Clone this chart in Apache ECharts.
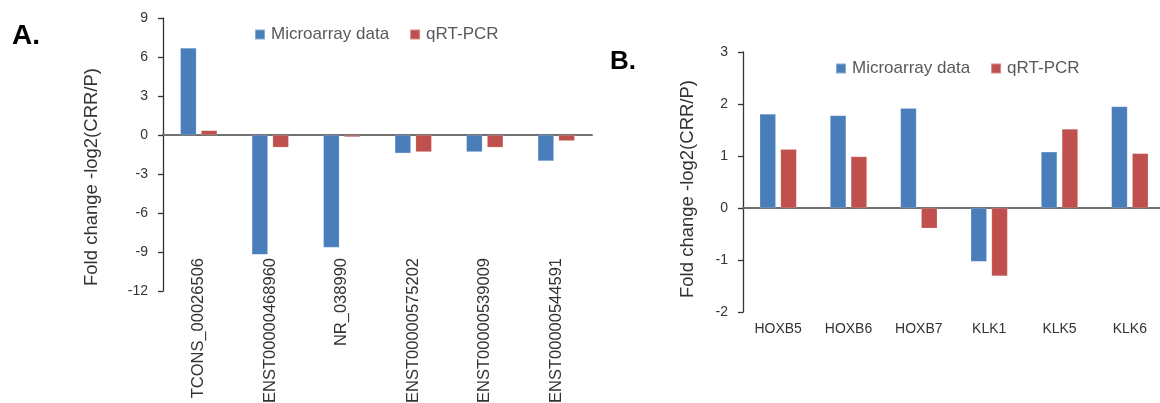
<!DOCTYPE html>
<html>
<head>
<meta charset="utf-8">
<script src="https://cdn.jsdelivr.net/npm/echarts@6/dist/echarts.min.js"></script>
<style>
  html, body { margin: 0; padding: 0; background: #fff; }
  #chart { width: 1160px; height: 403px; }
</style>
</head>
<body>
<div id="chart"></div>
<script>
// panel A - lncRNA
const categoriesA = ['TCONS_00026506', 'ENST00000468960', 'NR_038990', 'ENST00000575202', 'ENST00000539009', 'ENST00000544591']
const microarrayA = [6.7, -9.2, -8.65, -1.4, -1.3, -2.0]
const qpcrA = [0.35, -0.95, -0.15, -1.3, -0.95, -0.45]
const yTicksA = [-12, -9, -6, -3, 0, 3, 6, 9]

// panel B - mRNA
const categoriesB = ['HOXB5', 'HOXB6', 'HOXB7', 'KLK1', 'KLK5', 'KLK6']
const microarrayB = [1.81, 1.78, 1.92, -1.03, 1.08, 1.95]
const qpcrB = [1.13, 0.99, -0.39, -1.31, 1.52, 1.05]
const yTicksB = [-2, -1, 0, 1, 2, 3]

const seriesNames = ['Microarray data', 'qRT-PCR']
const BLUE = '#4a7ebb'
const RED = '#c0504d'
const FONT = 'Liberation Sans'
const yTitle = 'Fold change -log2(CRR/P)'

const chart = echarts.init(document.getElementById('chart'))

function yAxis(gridIndex, ticks) {
  return {
    type: 'value',
    gridIndex: gridIndex,
    min: ticks[0],
    max: ticks[ticks.length - 1],
    interval: ticks[1] - ticks[0],
    axisLine: { show: true, lineStyle: { color: '#333', width: 1.3 } },
    axisTick: { show: true, length: 5, lineStyle: { color: '#333', width: 1.3 } },
    splitLine: { show: false },
    axisLabel: { margin: 15, color: '#333', fontFamily: FONT, fontSize: 14 }
  }
}

function zeroAxis(gridIndex, cats) {
  return {
    type: 'category',
    gridIndex: gridIndex,
    data: cats,
    axisLine: { onZero: true, lineStyle: { color: '#707070', width: 2 } },
    axisTick: { show: false },
    axisLabel: { show: false }
  }
}

function barSeries(name, data, xi, yi, color) {
  return {
    name: name,
    type: 'bar',
    xAxisIndex: xi,
    yAxisIndex: yi,
    data: data,
    barWidth: 16,
    barGap: '30%',
    itemStyle: { color: color, borderColor: 'rgba(255,255,255,0.35)', borderWidth: 0.5 }
  }
}

function legend(left, top) {
  return {
    left: left,
    top: top,
    data: seriesNames,
    icon: 'rect',
    itemWidth: 10,
    itemHeight: 10,
    itemGap: 20,
    selectedMode: false,
    textStyle: { color: '#595959', fontFamily: FONT, fontSize: 17, padding: [0, 0, 0, 1] }
  }
}

const options = {
  backgroundColor: '#fff',
  animation: false,
  grid: [
    { left: 163, top: 18, width: 429, height: 273, outerBoundsMode: 'none' },
    { left: 743, top: 52, width: 422, height: 260, outerBoundsMode: 'none' }
  ],
  legend: [legend(249, 21), legend(830, 55)],
  xAxis: [
    zeroAxis(0, categoriesA),
    {
      type: 'category',
      gridIndex: 0,
      data: categoriesA,
      position: 'bottom',
      offset: -33,
      axisLine: { show: false, onZero: false },
      axisTick: { show: false },
      axisLabel: { rotate: 90, margin: 0, interval: 0, color: '#333', fontFamily: FONT, fontSize: 16.5 }
    },
    zeroAxis(1, categoriesB),
    {
      type: 'category',
      gridIndex: 1,
      data: categoriesB,
      position: 'bottom',
      axisLine: { show: false, onZero: false },
      axisTick: { show: false },
      axisLabel: { margin: 10, interval: 0, color: '#333', fontFamily: FONT, fontSize: 14 }
    }
  ],
  yAxis: [yAxis(0, yTicksA), yAxis(1, yTicksB)],
  series: [
    barSeries(seriesNames[0], microarrayA, 0, 0, BLUE),
    barSeries(seriesNames[1], qpcrA, 0, 0, RED),
    barSeries(seriesNames[0], microarrayB, 2, 1, BLUE),
    barSeries(seriesNames[1], qpcrB, 2, 1, RED)
  ],
  graphic: [
    { type: 'text', left: 12, top: 22, style: { text: 'A.', font: 'bold 28px ' + FONT, fill: '#000' } },
    { type: 'text', left: 610, top: 49, style: { text: 'B.', font: 'bold 26px ' + FONT, fill: '#000' } },
    { type: 'text', x: 92, y: 177, rotation: Math.PI / 2,
      style: { text: yTitle, font: '18.5px ' + FONT, fill: '#333', align: 'center', verticalAlign: 'middle' } },
    { type: 'text', x: 688, y: 189, rotation: Math.PI / 2,
      style: { text: yTitle, font: '18.5px ' + FONT, fill: '#333', align: 'center', verticalAlign: 'middle' } }
  ]
}

chart.setOption(options)
</script>
</body>
</html>
